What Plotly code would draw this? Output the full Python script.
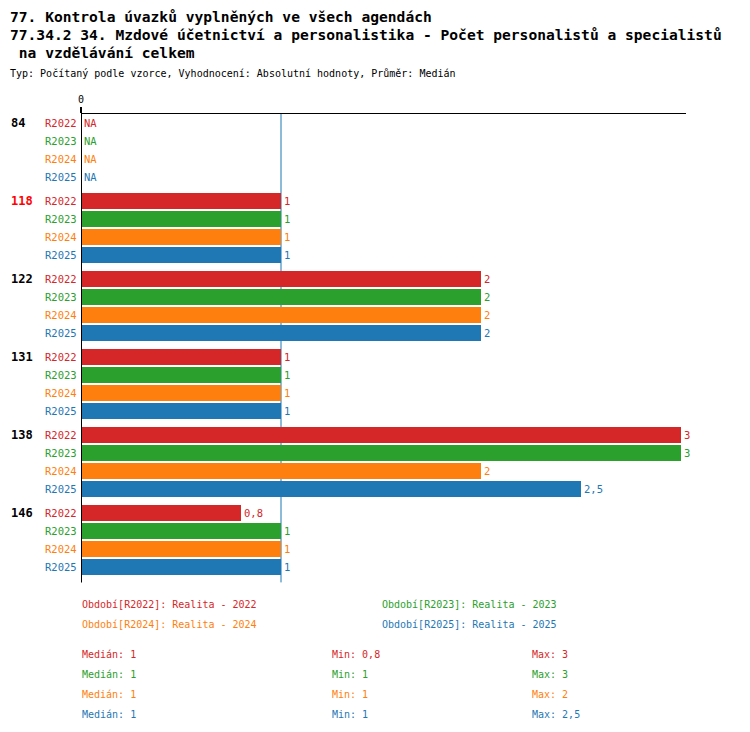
import plotly.graph_objects as go
import statistics

# data
skupiny = ['84', '118', '122', '131', '138', '146']
obdobi = ['R2022', 'R2023', 'R2024', 'R2025']
popisky = ['Realita - 2022', 'Realita - 2023', 'Realita - 2024', 'Realita - 2025']
barvy = ['#d62728', '#2ca02c', '#ff7f0e', '#1f77b4']
r2022 = [None, 1, 2, 1, 3, 0.8]
r2023 = [None, 1, 2, 1, 3, 1]
r2024 = [None, 1, 2, 1, 2, 1]
r2025 = [None, 1, 2, 1, 2.5, 1]
hodnoty = [r2022, r2023, r2024, r2025]
zvyraznena = '118'
median_cara = 1

W, H = 750, 732
OFF = 8  # page body margin
TOP, BOTTOM, LEFT, RIGHT = 114 - OFF, 576.6 - OFF, 81 - OFF, 686 - OFF
FONT = 'DejaVu Sans Mono'
krok = 78 / 18  # odstup skupin v jednotkach radku


def py(pix):
    return (BOTTOM - (pix - OFF)) / (BOTTOM - TOP)


def px(pix):
    return ((pix - OFF) - LEFT) / (RIGHT - LEFT)


def fmt(v):
    return ('%g' % v).replace('.', ',')


fig = go.Figure()
ann = []
for si, (name, vals, col) in enumerate(zip(obdobi, hodnoty, barvy)):
    ys = [gi * krok + si for gi in range(len(skupiny))]
    fig.add_trace(go.Bar(x=vals, y=ys, orientation='h', width=16 / 18,
                         marker=dict(color=col, line=dict(width=0)), name=name, showlegend=False))
    for gi, (y, v) in enumerate(zip(ys, vals)):
        ann.append(dict(x=0, y=y, xref='x', yref='y', text=name, xanchor='right', xshift=-2,
                        showarrow=False, font=dict(family=FONT, size=10.5, color=col)))
        ann.append(dict(x=v if v is not None else 0, y=y, xref='x', yref='y',
                        text=fmt(v) if v is not None else 'NA', xanchor='left', xshift=1,
                        showarrow=False, font=dict(family=FONT, size=10.5, color=col)))

for gi, g in enumerate(skupiny):
    ann.append(dict(x=px(9), y=gi * krok, xref='paper', yref='y', text='<b>%s</b>' % g,
                    xanchor='left', showarrow=False,
                    font=dict(family=FONT, size=12, color='red' if g == zvyraznena else 'black')))

# titulky (posunute dovnitr, aby nebyly oriznute)
tituly = [('<b>77. Kontrola úvazků vyplněných ve všech agendách</b>', 17, 14.6),
          ('<b>77.34.2 34. Mzdové účetnictví a personalistika - Počet personalistů a specialistů</b>', 35, 14.6),
          ('<b> na vzdělávání celkem</b>', 53, 14.6),
          ('Typ: Počítaný podle vzorce, Vyhodnocení: Absolutní hodnoty, Průměr: Medián', 74, 10)]
for t, y, s in tituly:
    ann.append(dict(x=px(8), y=py(y), xref='paper', yref='paper', text=t, xanchor='left',
                    yanchor='middle', showarrow=False, font=dict(family=FONT, size=s, color='black')))

# legenda
leg_pos = [(80, 604), (380, 604), (80, 624), (380, 624)]
for (x, y), name, pop, col in zip(leg_pos, obdobi, popisky, barvy):
    ann.append(dict(x=px(x), y=py(y), xref='paper', yref='paper', text='Období[%s]: %s' % (name, pop),
                    xanchor='left', yanchor='middle', showarrow=False,
                    font=dict(family=FONT, size=10, color=col)))

# statistiky
for si, (vals, col) in enumerate(zip(hodnoty, barvy)):
    v = [a for a in vals if a is not None]
    y = 654 + si * 20
    for x, t in [(80, 'Medián: ' + fmt(statistics.median(v))),
                 (330, 'Min: ' + fmt(min(v))),
                 (530, 'Max: ' + fmt(max(v)))]:
        ann.append(dict(x=px(x), y=py(y), xref='paper', yref='paper', text=t, xanchor='left',
                        yanchor='middle', showarrow=False, font=dict(family=FONT, size=10, color=col)))

shapes = [
    dict(type='line', xref='x', yref='paper', x0=median_cara, x1=median_cara, y0=py(582), y1=1,
         line=dict(color='#1f77b4', width=1), layer='below'),
    dict(type='line', xref='x', yref='paper', x0=0, x1=0, y0=py(582), y1=1,
         line=dict(color='black', width=2)),
]

fig.update_layout(
    width=W, height=H,
    margin=dict(l=LEFT, r=W - RIGHT, t=TOP, b=H - BOTTOM, pad=0),
    plot_bgcolor='white', paper_bgcolor='white',
    bargap=0, barmode='overlay',
    annotations=ann, shapes=shapes,
    font=dict(family=FONT, size=10, color='black'),
)
fig.update_xaxes(range=[0, (RIGHT - LEFT) / 200], side='top', showline=True, linecolor='black',
                 linewidth=1, showgrid=False, zeroline=False, tickvals=[0], ticktext=['0'],
                 ticks='outside', ticklen=6, tickwidth=2, tickcolor='black',
                 tickfont=dict(family=FONT, size=10))
fig.update_yaxes(range=[(BOTTOM - TOP) / 18 - 0.5, -0.5], showticklabels=False, showgrid=False,
                 zeroline=False, showline=False)

fig.write_html("out.html")
